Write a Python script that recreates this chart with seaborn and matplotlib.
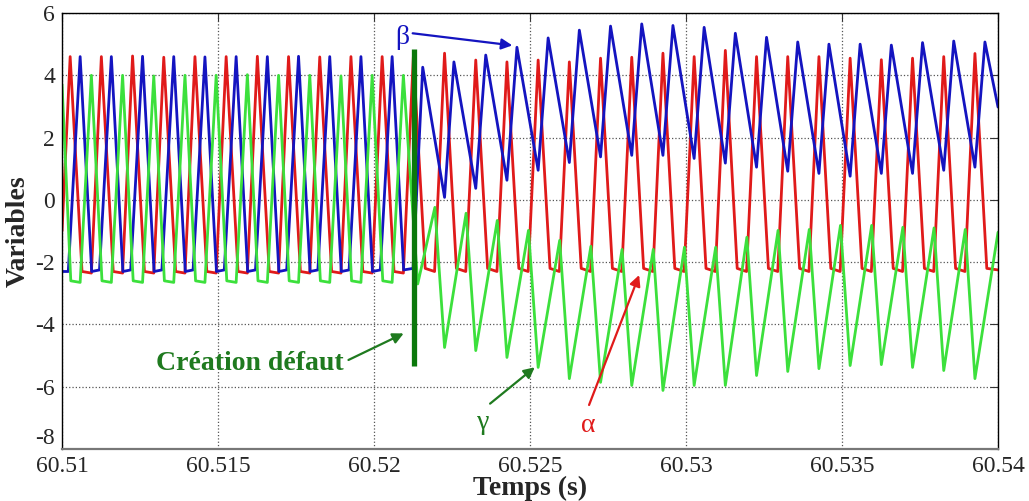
import numpy as np
import pandas as pd
import seaborn as sns
import matplotlib.pyplot as plt

# instants en ms après 60.51 s
bords_ms = [0.0, 30.0]

# alpha (rouge) : pics et paliers bas
alpha_pic_ms = [0.26, 1.26, 2.26, 3.26, 4.26, 5.26, 6.26, 7.26, 8.26, 9.26,
                10.26, 11.26, 12.26, 13.26, 14.26, 15.26, 16.26, 17.26, 18.26, 19.26,
                20.26, 21.26, 22.26, 23.26, 24.26, 25.26, 26.26, 27.26, 28.26, 29.26]
alpha_pic = [4.60, 4.60, 4.62, 4.58, 4.60, 4.60, 4.61, 4.60, 4.59, 4.60,
             4.60, 4.60, 4.71, 4.49, 4.43, 4.49, 4.43, 4.55, 4.58, 4.71,
             4.60, 4.80, 4.60, 4.60, 4.60, 4.55, 4.50, 4.55, 4.60, 4.70]
alpha_bas_ms = [0.64, 0.94, 1.64, 1.94, 2.64, 2.94, 3.64, 3.94, 4.64, 4.94,
                5.64, 5.94, 6.64, 6.94, 7.64, 7.94, 8.64, 8.94, 9.64, 9.94,
                10.64, 10.94, 11.64, 11.94, 12.64, 12.94, 13.64, 13.94, 14.64, 14.94,
                15.64, 15.94, 16.64, 16.94, 17.64, 17.94, 18.64, 18.94, 19.64, 19.94,
                20.64, 20.94, 21.64, 21.94, 22.64, 22.94, 23.64, 23.94, 24.64, 24.94,
                25.64, 25.94, 26.64, 26.94, 27.64, 27.94, 28.64, 28.94, 29.64]
alpha_bas = [-2.30, -2.35, -2.30, -2.35, -2.30, -2.35, -2.30, -2.35, -2.30, -2.35,
             -2.30, -2.35, -2.30, -2.35, -2.30, -2.35, -2.30, -2.35, -2.30, -2.35,
             -2.30, -2.35, -2.20, -2.30, -2.20, -2.30, -2.20, -2.30, -2.20, -2.30,
             -2.20, -2.30, -2.20, -2.30, -2.20, -2.30, -2.20, -2.30, -2.20, -2.30,
             -2.20, -2.30, -2.20, -2.30, -2.20, -2.30, -2.20, -2.30, -2.20, -2.30,
             -2.20, -2.30, -2.20, -2.30, -2.20, -2.30, -2.20, -2.30, -2.20]
alpha_bords = [-1.00, -2.25]

# beta (bleu)
beta_pic_ms = [0.58, 1.58, 2.58, 3.58, 4.58, 5.58, 6.58, 7.58, 8.58, 9.58,
               10.58, 11.56, 12.56, 13.58, 14.58, 15.58, 16.58, 17.58, 18.58, 19.58,
               20.58, 21.58, 22.58, 23.58, 24.58, 25.58, 26.58, 27.58, 28.58, 29.58]
beta_pic = [4.60, 4.60, 4.61, 4.60, 4.59, 4.60, 4.60, 4.61, 4.60, 4.60,
            4.60, 4.26, 4.43, 4.65, 4.90, 5.20, 5.45, 5.58, 5.65, 5.60,
            5.54, 5.35, 5.22, 5.07, 5.00, 5.00, 4.97, 5.05, 5.10, 5.07]
beta_bas_ms = [0.20, 0.95, 1.20, 1.95, 2.20, 2.95, 3.20, 3.95, 4.20, 4.95,
               5.20, 5.95, 6.20, 6.95, 7.20, 7.95, 8.20, 8.95, 9.20, 9.95,
               10.20, 10.95, 11.25, 12.26, 13.26, 14.26, 15.26, 16.26, 17.26, 18.26,
               19.26, 20.26, 21.26, 22.26, 23.26, 24.26, 25.26, 26.26, 27.26, 28.26,
               29.26]
beta_bas = [-2.30, -2.30, -2.25, -2.30, -2.25, -2.30, -2.25, -2.30, -2.25, -2.30,
            -2.25, -2.30, -2.25, -2.30, -2.25, -2.30, -2.25, -2.30, -2.25, -2.30,
            -2.25, -2.25, -2.20, 0.08, 0.37, 0.63, 0.95, 1.20, 1.38, 1.43,
            1.43, 1.33, 1.18, 1.05, 0.92, 0.85, 0.76, 0.85, 0.85, 0.95,
            1.05]
beta_bords = [-2.30, 2.98]

# gamma (vert)
gamma_pic_ms = [0.94, 1.94, 2.94, 3.94, 4.94, 5.94, 6.94, 7.94, 8.94, 9.94,
                10.94, 11.95, 12.95, 13.95, 14.95, 15.95, 16.95, 17.95, 18.95, 19.95,
                20.95, 21.95, 22.95, 23.95, 24.95, 25.95, 26.95, 27.95, 28.95]
gamma_pic = [4.00, 4.00, 3.98, 4.00, 4.00, 4.02, 4.00, 4.00, 3.98, 4.00,
             4.00, -0.24, -0.43, -0.66, -0.98, -1.30, -1.49, -1.59, -1.59, -1.52,
             -1.52, -1.20, -0.98, -0.95, -0.82, -0.82, -0.88, -0.90, -0.95]
gamma_bas_ms = [0.28, 0.58, 1.28, 1.58, 2.28, 2.58, 3.28, 3.58, 4.28, 4.58,
                5.28, 5.58, 6.28, 6.58, 7.28, 7.58, 8.28, 8.58, 9.28, 9.58,
                10.28, 10.58, 11.40, 12.26, 13.26, 14.26, 15.26, 16.26, 17.26, 18.26,
                19.26, 20.26, 21.26, 22.26, 23.26, 24.26, 25.26, 26.26, 27.26, 28.26,
                29.26]
gamma_bas = [-2.60, -2.65, -2.60, -2.65, -2.60, -2.65, -2.60, -2.65, -2.60, -2.65,
             -2.60, -2.65, -2.60, -2.65, -2.60, -2.65, -2.60, -2.65, -2.60, -2.65,
             -2.60, -2.65, -2.70, -4.74, -4.84, -5.06, -5.38, -5.74, -5.86, -5.96,
             -6.12, -5.96, -5.96, -5.64, -5.51, -5.42, -5.32, -5.29, -5.38, -5.48,
             -5.74]
gamma_bords = [3.70, -1.04]

x_ticks = [60.51, 60.515, 60.52, 60.525, 60.53, 60.535, 60.54]
x_labels = ["60.51", "60.515", "60.52", "60.525", "60.53", "60.535", "60.54"]
y_ticks = [-8, -6, -4, -2, 0, 2, 4, 6]

t_defaut = 60.52128


def courbe(pic_ms, pic, bas_ms, bas, bords):
    t = np.concatenate([bords_ms, pic_ms, bas_ms])
    v = np.concatenate([bords, pic, bas])
    df = pd.DataFrame({"t": 60.51 + t / 1000.0, "v": v})
    return df.sort_values("t")


sns.set_style("white")
plt.rcParams["font.family"] = ["Liberation Serif", "DejaVu Serif"]
plt.rcParams["axes.unicode_minus"] = False

fig, ax = plt.subplots(figsize=(10.29, 5.01), dpi=100)
fig.subplots_adjust(left=0.0603, right=0.9699, bottom=0.1038, top=0.974)

rouge = "#e01a1a"
bleu = "#1414c0"
vert = "#3ce03c"
vert_fonce = "#0b780b"

for df, c in [(courbe(alpha_pic_ms, alpha_pic, alpha_bas_ms, alpha_bas, alpha_bords), rouge),
              (courbe(beta_pic_ms, beta_pic, beta_bas_ms, beta_bas, beta_bords), bleu),
              (courbe(gamma_pic_ms, gamma_pic, gamma_bas_ms, gamma_bas, gamma_bords), vert)]:
    sns.lineplot(data=df, x="t", y="v", color=c, linewidth=2.0,
                 estimator=None, sort=True, ax=ax)

# barre de création du défaut
ax.vlines(t_defaut, -5.32, 4.84, color=vert_fonce, linewidth=3.8, zorder=5)

ax.set_xlim(60.51, 60.54)
ax.set_ylim(-8, 6)
ax.set_xticks(x_ticks)
ax.set_xticklabels(x_labels)
ax.set_yticks(y_ticks)
ax.grid(True, linestyle=":", color="#555555", linewidth=0.9)
ax.tick_params(direction="in", top=True, right=True, length=6, labelsize=17,
               pad=5, color="#333333")
# le "-8" est remonté au-dessus de l'axe, comme dans l'original
ax.get_yticklabels()[0].set_va("bottom")
for s in ax.spines.values():
    s.set_color("black")
    s.set_linewidth(1.0)
ax.spines["bottom"].set_color("#777777")
ax.spines["bottom"].set_linewidth(1.6)

ax.set_xlabel("Temps (s)", fontsize=20, fontweight="bold", labelpad=-1)
ax.set_ylabel("Variables", fontsize=20, fontweight="bold", labelpad=3)

# annotations
ax.annotate("", xy=(60.52103, -4.25), xytext=(60.51910, -5.18),
            arrowprops=dict(arrowstyle="-|>", color="#1f7a1f", lw=1.6, mutation_scale=16))
ax.text(60.51603, -5.25, "Création défaut", color="#1f7a1f", fontsize=20,
        fontweight="bold", ha="center", va="center")

ax.annotate("", xy=(60.52452, 4.95), xytext=(60.52115, 5.36),
            arrowprops=dict(arrowstyle="-|>", color=bleu, lw=1.6, mutation_scale=16))
ax.text(60.52090, 5.22, "β", color=bleu, fontsize=20, ha="center", va="center")

ax.annotate("", xy=(60.52522, -5.32), xytext=(60.52365, -6.60),
            arrowprops=dict(arrowstyle="-|>", color="#1f7a1f", lw=1.6, mutation_scale=16))
ax.text(60.52349, -7.15, "γ", color="#1f7a1f", fontsize=20, ha="center", va="center")

ax.annotate("", xy=(60.52853, -2.33), xytext=(60.52686, -6.67),
            arrowprops=dict(arrowstyle="-|>", color=rouge, lw=1.6, mutation_scale=16))
ax.text(60.52686, -7.25, "α", color=rouge, fontsize=20, ha="center", va="center")

fig.savefig("out.png", dpi=100)
